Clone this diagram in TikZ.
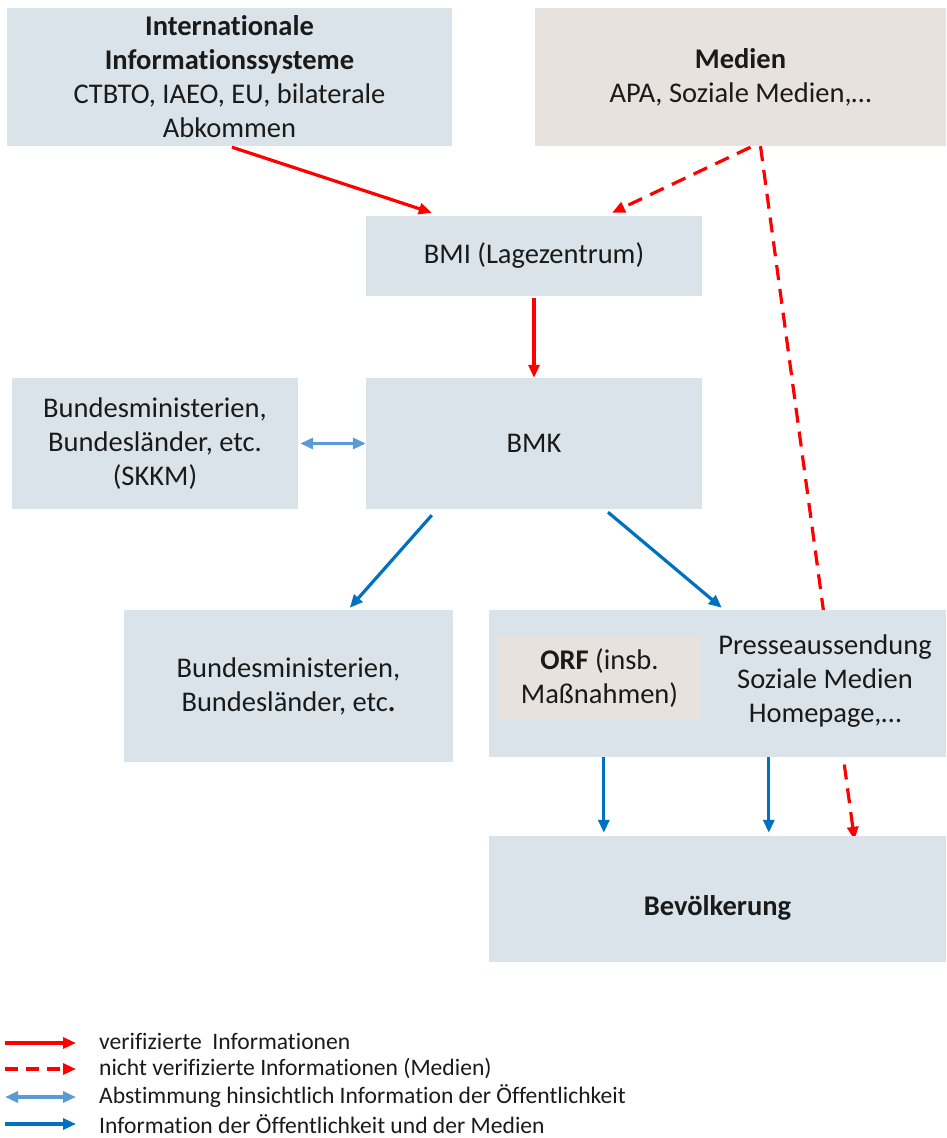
\documentclass[tikz,border=0pt]{standalone}
\usepackage{fontspec}
\setmainfont{Carlito}[Ligatures={NoCommon}]
\usetikzlibrary{arrows.meta,backgrounds}
\definecolor{boxblue}{HTML}{DAE3E9}
\definecolor{boxbeige}{HTML}{E7E2DE}
\definecolor{redarr}{HTML}{FF0000}
\definecolor{bluearr}{HTML}{0070C0}
\definecolor{lightarr}{HTML}{5B9BD5}
\definecolor{txt}{HTML}{1A1A1A}
\tikzset{
  x=1pt, y=-1pt,
  boxnode/.style={rectangle, fill=boxblue, inner sep=0pt, align=center, text=txt,
    font=\fontsize{28.5}{34}\selectfont},
  beigebox/.style={boxnode, fill=boxbeige},
  txtnode/.style={inner sep=0pt, align=center, text=txt, font=\fontsize{28.5}{34}\selectfont},
  legtxt/.style={inner sep=0pt, anchor=west, text=txt, font=\fontsize{23.6}{27}\selectfont},
  redsolid/.style={draw=redarr, line width=3.2pt, -{Triangle[length=13pt,width=11pt]}},
  reddash/.style={redsolid, dash pattern=on 15pt off 9pt},
  bluesolid/.style={draw=bluearr, line width=3.2pt, -{Triangle[length=13pt,width=11pt]}},
  bluedouble/.style={draw=lightarr, line width=3.2pt, {Triangle[length=13pt,width=11pt]}-{Triangle[length=13pt,width=11pt]}},
}
\begin{document}
\begin{tikzpicture}
\useasboundingbox (0,0) rectangle (947,1138);
% boxes
\node[boxnode, minimum width=445pt, minimum height=138pt] (intl) at (229.5,77)
  {\textbf{Internationale}\\ \textbf{Informationssysteme}\\ CTBTO, IAEO, EU, bilaterale\\ Abkommen};
\node[beigebox, minimum width=411pt, minimum height=138pt] (medien) at (740.5,77)
  {\textbf{Medien}\\ APA, Soziale Medien,…};
\node[boxnode, minimum width=336pt, minimum height=80pt] (bmi) at (534,256) {BMI (Lagezentrum)};
\node[boxnode, minimum width=286pt, minimum height=131pt] (skkm) at (155,443.5)
  {Bundesministerien,\\ Bundesländer, etc.\\ (SKKM)};
\node[boxnode, minimum width=336pt, minimum height=131pt] (bmk) at (534,443.5) {BMK};
\node[boxnode, minimum width=329pt, minimum height=152pt] (bund) at (288.5,686)
  {Bundesministerien,\\ Bundesländer, etc\textbf{.}};
\node[boxnode, minimum width=457pt, minimum height=147pt] (presse) at (717.5,683.5) {};
\node[beigebox, minimum width=205pt, minimum height=84pt] (orf) at (599.5,678)
  {\textbf{ORF} (insb.\\ Maßnahmen)};
\node[txtnode] (pressetxt) at (825,681) {Presseaussendung\\ Soziale Medien\\ Homepage,…};
\node[boxnode, minimum width=457pt, minimum height=126pt, text depth=0pt] (bev) at (717.5,899)
  {\raisebox{-12pt}{\textbf{Bevölkerung}}};
% hidden dashed line behind boxes
\begin{scope}[on background layer]
\draw[reddash] ([xshift=20pt]medien.south) -- ([xshift=137pt,yshift=-4pt]bev.north);
\end{scope}
% connectors
\draw[redsolid] ([xshift=2.5pt,yshift=-1pt]intl.south) -- ([xshift=66pt,yshift=3pt]bmi.north west);
\draw[reddash] ([xshift=10pt,yshift=-1pt]medien.south) -- ([xshift=78pt,yshift=3pt]bmi.north);
\draw[redsolid] ([yshift=-2pt]bmi.south) -- (bmk.north);
\draw[bluedouble] ([xshift=2pt]skkm.east) -- (bmk.west);
\draw[bluesolid] ([xshift=66pt,yshift=-6pt]bmk.south west) -- ([xshift=226pt,yshift=2pt]bund.north west);
\draw[bluesolid] ([xshift=74pt,yshift=-3pt]bmk.south) -- ([xshift=233pt,yshift=2pt]presse.north west);
\draw[bluesolid] ([xshift=115pt]presse.south west) -- ([xshift=115pt,yshift=3pt]bev.north west);
\draw[bluesolid] ([xshift=280pt]presse.south west) -- ([xshift=280pt,yshift=3pt]bev.north west);
% legend
\coordinate (l1a) at (5,1043); \coordinate (l1b) at (76,1043);
\coordinate (l2a) at (5,1069); \coordinate (l2b) at (76,1069);
\coordinate (l3a) at (5,1097); \coordinate (l3b) at (76,1097);
\coordinate (l4a) at (5,1124); \coordinate (l4b) at (76,1124);
\draw[redsolid] (l1a) -- (l1b);
\draw[reddash, dash pattern=on 13pt off 8pt] (l2a) -- (l2b);
\draw[bluedouble] (l3a) -- (l3b);
\draw[bluesolid] (l4a) -- (l4b);
\node[legtxt] (t1) at (99,1041) {verifizierte\ \ Informationen};
\node[legtxt] (t2) at (99,1068) {nicht verifizierte Informationen (Medien)};
\node[legtxt] (t3) at (99,1096) {Abstimmung hinsichtlich Information der Öffentlichkeit};
\node[legtxt] (t4) at (99,1124) {Information der Öffentlichkeit und der Medien};
\end{tikzpicture}
\end{document}
